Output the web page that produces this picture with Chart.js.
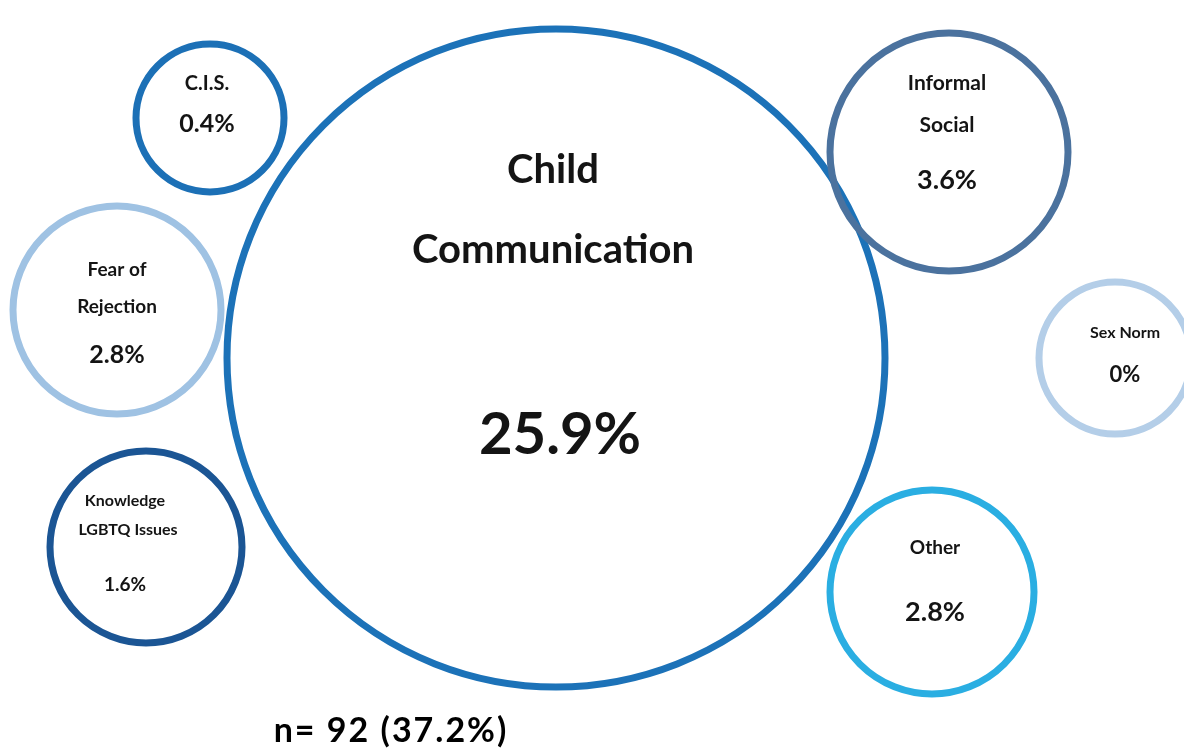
<!DOCTYPE html>
<html>
<head>
<meta charset="utf-8">
<script src="https://cdn.jsdelivr.net/npm/chart.js@4/dist/chart.umd.min.js"></script>
<style>
  html,body{margin:0;padding:0;background:#fff;}
  #wrap{width:1184px;height:754px;position:relative;}
</style>
</head>
<body>
<div id="wrap"><canvas id="c" width="1184" height="754"></canvas></div>
<script>
// ---- data ----
const categories = ['Child Communication','C.I.S.','Informal Social','Fear of Rejection','Sex Norm','Knowledge LGBTQ Issues','Other'];
const percents   = [25.9, 0.4, 3.6, 2.8, 0, 1.6, 2.8];
// 円の中に書く見出し（改行ごと）
const labelLines = [['Child','Communication'],['C.I.S.'],['Informal','Social'],['Fear of','Rejection'],['Sex Norm'],['Knowledge','LGBTQ Issues'],['Other']];
const footnote   = 'n= 92 (37.2%)';

// ---- layout (bubble centres / radii in canvas units, colours, text placement) ----
const bubbleX = [556, 210, 949, 117, 1115, 146, 932];
const bubbleY = [358, 118, 152, 310, 358, 547, 592];
const bubbleR = [329, 74, 119, 104, 76, 96, 102];
const ringColors = ['#1c72b8','#1c70b6','#4b729e','#9fc2e3','#b4cee8','#1b5594','#2aaee2'];
const ringWidth  = 7;
// 各行: [dx, dy, fontSize]（最後は % 値）
const textLayout = [
  [[-3,-188,40],[-3,-108,40],[4,77,58]],
  [[-3,-34,20],[-3,6,25]],
  [[-2,-69,21],[-2,-27,21],[-2,28,27]],
  [[0,-40,19],[0,-3,19],[0,45,25]],
  [[10,-25,16],[10,17,22]],
  [[-21,-46,16],[-18,-17,16],[-21,38,19]],
  [[3,-44,19],[3,20,27]],
];
const FONT = 'Lato, "Open Sans", sans-serif';

// バブルの半径ぶん chartArea が縮むのを止める（座標 = canvas の px にしたい）
Chart.BubbleController.prototype.getMaxOverflow = function(){ return 0; };

const bubbleLabels = {
  id:'bubbleLabels',
  afterDatasetsDraw(chart){
    const {ctx, scales:{x,y}} = chart;
    ctx.save();
    ctx.fillStyle = '#141414';
    ctx.textAlign = 'center';
    ctx.textBaseline = 'middle';
    categories.forEach((_,i)=>{
      const cx = x.getPixelForValue(bubbleX[i]);
      const cy = y.getPixelForValue(bubbleY[i]);
      const lines = [...labelLines[i], percents[i] + '%'];
      lines.forEach((t,j)=>{
        const [dx,dy,fs] = textLayout[i][j];
        ctx.font = `bold ${fs}px ${FONT}`;
        ctx.fillText(t, cx+dx, cy+dy);
      });
    });
    // 下の注記（n 数）
    ctx.font = `bold 34px ${FONT}`;
    ctx.fillStyle = '#000';
    ctx.letterSpacing = '2px';
    ctx.fillText(footnote, 391, 731);
    ctx.restore();
  }
};

new Chart(document.getElementById('c').getContext('2d'), {
  type:'bubble',
  data:{
    labels: categories,
    datasets:[{
      data: categories.map((_,i)=>({x:bubbleX[i], y:bubbleY[i], r:bubbleR[i]})),
      backgroundColor:'rgba(255,255,255,0)',
      borderColor: ringColors,
      borderWidth: ringWidth,
      hoverBorderWidth: ringWidth,
      clip: false,
    }]
  },
  options:{
    responsive:false, animation:false,
    layout:{padding:0},
    plugins:{legend:{display:false}, tooltip:{enabled:false}},
    scales:{
      x:{type:'linear', min:0, max:1184, display:false},
      y:{type:'linear', min:0, max:754, reverse:true, display:false},
    },
  },
  plugins:[bubbleLabels],
});
</script>
</body>
</html>
